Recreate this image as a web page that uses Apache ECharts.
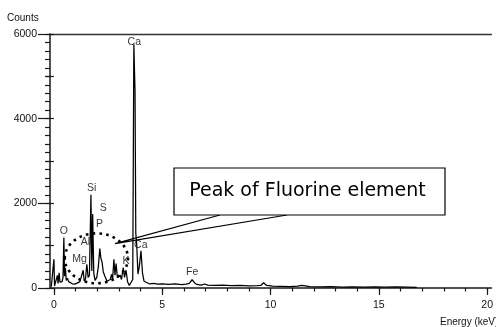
<!DOCTYPE html>
<html>
<head>
<meta charset="utf-8">
<script src="https://cdn.jsdelivr.net/npm/echarts@6/dist/echarts.min.js"></script>
<style>
  html, body { margin: 0; padding: 0; background: #fff; }
  #chart { width: 496px; height: 327px; }
</style>
</head>
<body>
<div id="chart"></div>
<script>
// EDS spectrum: energy (keV) vs counts
const energy = [
  -0.12, -0.03, 0.00, 0.03, 0.10, 0.16, 0.19, 0.24, 0.28, 0.33, 0.38, 0.42, 0.46, 0.49, 0.53, 0.57,
  0.63, 0.68, 0.75, 0.85, 0.95, 1.05, 1.12, 1.20, 1.28, 1.35, 1.40, 1.46, 1.52, 1.58, 1.64, 1.71,
  1.75, 1.79, 1.84, 1.90, 1.98, 2.05, 2.12, 2.17, 2.22, 2.28, 2.36, 2.45, 2.52, 2.60, 2.66, 2.71,
  2.77, 2.82, 2.87, 2.93, 3.00, 3.06, 3.12, 3.20, 3.26, 3.33, 3.40, 3.48, 3.55, 3.64, 3.69, 3.745,
  3.78, 3.82, 3.88, 3.94, 4.02, 4.09, 4.16, 4.25, 4.40, 4.60, 4.80, 5.00, 5.30, 5.60, 5.90, 6.10,
  6.25, 6.38, 6.50, 6.60, 6.80, 6.96, 7.10, 7.40, 7.80, 8.20, 8.60, 9.00, 9.40, 9.55, 9.68, 9.82,
  10.10, 10.50, 10.90, 11.25, 11.43, 11.60, 11.80, 12.30, 12.80, 13.30, 13.80, 14.30, 14.80, 15.30,
  15.80, 16.30, 16.75
];
const counts = [
  30, 30, 680, 50, 70, 300, 110, 360, 140, 170, 150, 250, 1190, 280, 480, 180,
  230, 150, 120, 100, 90, 110, 90, 150, 120, 420, 160, 220, 560, 250, 300, 2200,
  400, 1750, 350, 180, 250, 500, 930, 700, 620, 380, 270, 160, 130, 200, 320, 200,
  680, 300, 580, 250, 210, 300, 200, 480, 250, 420, 150, 60, 90, 200, 5760, 4650,
  1300, 1050, 330, 500, 880, 350, 160, 120, 100, 110, 90, 100, 85, 95, 80, 90,
  110, 195, 120, 85, 70, 95, 70, 60, 65, 55, 60, 50, 55, 60, 125, 60,
  45, 40, 35, 45, 60, 50, 30, 25, 30, 20, 25, 20, 25, 20,
  25, 20, 15
];

// Element line labels
const elementNames  = ['Ca', 'Si', 'S', 'P', 'O', 'Al', 'Mg', 'Ca', 'K', 'Fe'];
const elementEnergy = [3.71, 1.74, 2.28, 2.10, 0.46, 1.46, 1.18, 4.01, 3.33, 6.38];
const elementCounts = [5800, 2350, 1880, 1520, 1335, 1075, 675, 1005, 625, 365];

// Axis ticks and labels
const xMinorTicks = [0, 1, 2, 3, 4, 5, 6, 7, 8, 9, 10, 11, 12, 13, 14, 15, 16, 17, 18, 19, 20];
const xMajorTicks = [0, 5, 10, 15, 20];
const yLabelStep = 2000;
const yMidStep = 1000;

// Annotation anchors (data coordinates)
const fluorineZone = { energy: 1.96, counts: 700, halfWidth: 1.46, halfHeight: 590 };
const pointerTip = { energy: 2.82, counts: 1050 };
const calloutText = 'Peak of Fluorine element';

const font = '"Liberation Sans", Arial, sans-serif';
const axisColor = '#1a1a1a';

const chart = echarts.init(document.getElementById('chart'), null, { renderer: 'canvas' });

chart.setOption({
  animation: false,
  backgroundColor: '#fff',
  grid: { left: 50, top: 34, width: 447, height: 254, containLabel: false },
  xAxis: [
    {
      type: 'value', min: -0.18, max: 20.2, position: 'bottom',
      axisLine: { show: true, onZero: false, lineStyle: { color: axisColor, width: 1.5 } },
      axisTick: { show: true, length: 3.5, customValues: xMinorTicks, lineStyle: { color: axisColor, width: 1.2 } },
      axisLabel: { show: false },
      splitLine: { show: false }
    },
    {
      type: 'value', min: -0.18, max: 20.2, position: 'bottom',
      axisLine: { show: false },
      axisTick: { show: true, length: 7, customValues: xMajorTicks, lineStyle: { color: axisColor, width: 1.2 } },
      axisLabel: { show: true, customValues: xMajorTicks, margin: 12, fontSize: 10.5, fontFamily: font, color: '#111' },
      splitLine: { show: false }
    },
    {
      type: 'value', min: -0.18, max: 20.2, position: 'top',
      axisLine: { show: true, onZero: false, lineStyle: { color: '#333', width: 1.3 } },
      axisTick: { show: false }, axisLabel: { show: false }, splitLine: { show: false }
    }
  ],
  yAxis: [
    {
      type: 'value', min: 0, max: 6000, interval: yLabelStep, position: 'left',
      axisLine: { show: true, onZero: false, lineStyle: { color: axisColor, width: 1.5 } },
      axisTick: { show: true, length: 12, lineStyle: { color: axisColor, width: 1.2 } },
      minorTick: { show: true, splitNumber: 10, length: 5, lineStyle: { color: axisColor, width: 1.2 } },
      axisLabel: { show: true, margin: 13, fontSize: 10.5, fontFamily: font, color: '#111', formatter: v => String(v) },
      splitLine: { show: false }
    },
    {
      type: 'value', min: 0, max: 6000, interval: yMidStep, position: 'left',
      axisLine: { show: false },
      axisTick: { show: true, length: 8, lineStyle: { color: axisColor, width: 1.2 } },
      axisLabel: { show: false },
      splitLine: { show: false }
    }
  ],
  series: [
    {
      type: 'line',
      xAxisIndex: 0, yAxisIndex: 0,
      data: energy.map((e, i) => [e, counts[i]]),
      showSymbol: false,
      lineStyle: { color: '#000', width: 1.25 },
      z: 3
    },
    {
      type: 'scatter',
      xAxisIndex: 0, yAxisIndex: 0,
      symbolSize: 0,
      data: elementNames.map((n, i) => ({ name: n, value: [elementEnergy[i], elementCounts[i]] })),
      label: {
        show: true, position: 'inside', formatter: p => p.name,
        fontSize: 10.5, fontFamily: font, color: '#000'
      },
      z: 4
    }
  ]
});

// Overlay annotations anchored to the data coordinates
const px = (e, c) => chart.convertToPixel({ gridIndex: 0 }, [e, c]);
const center = px(fluorineZone.energy, fluorineZone.counts);
const edge = px(fluorineZone.energy + fluorineZone.halfWidth, fluorineZone.counts + fluorineZone.halfHeight);
const tip = px(pointerTip.energy, pointerTip.counts);

const box = { x: 174, y: 168, w: 271, h: 47 };

chart.setOption({
  graphic: [
    {
      type: 'ellipse', z: 10,
      shape: { cx: center[0], cy: center[1], rx: edge[0] - center[0], ry: center[1] - edge[1] },
      style: { fill: 'none', stroke: '#000', lineWidth: 2.6, lineDash: [2.6, 4.2] }
    },
    {
      type: 'polyline', z: 10,
      shape: { points: [[box.x + 46, box.y + box.h], tip, [box.x + 113, box.y + box.h]] },
      style: { fill: 'none', stroke: '#000', lineWidth: 1.2 }
    },
    {
      type: 'rect', z: 11,
      shape: { x: box.x, y: box.y, width: box.w, height: box.h },
      style: { fill: '#fff', stroke: '#000', lineWidth: 1.2 }
    },
    {
      type: 'text', z: 12,
      style: {
        text: calloutText, x: box.x + box.w / 2 - 2, y: box.y + box.h / 2,
        align: 'center', verticalAlign: 'middle',
        font: '19px "DejaVu Sans", sans-serif', fill: '#000'
      }
    },
    {
      type: 'text', z: 12,
      style: { text: 'Counts', x: 7, y: 18, verticalAlign: 'middle', font: '10px ' + font, fill: '#111' }
    },
    {
      type: 'text', z: 12,
      style: { text: 'Energy (keV)', x: 440, y: 322, verticalAlign: 'middle', font: '10px ' + font, fill: '#111' }
    }
  ]
});
</script>
</body>
</html>
